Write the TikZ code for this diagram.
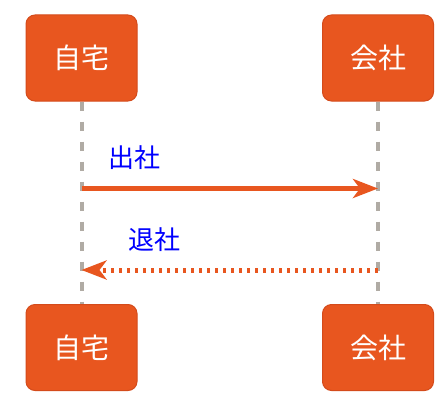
\documentclass[tikz,border=0pt]{standalone}
\usepackage{fontspec}
\newfontfamily\cjkfont{Noto Sans CJK JP}
\usetikzlibrary{arrows.meta}
\definecolor{boxorange}{HTML}{E8561F}
\definecolor{boxedge}{HTML}{D44B1B}
\definecolor{lifegray}{HTML}{B0ABA4}
\definecolor{lblue}{HTML}{0000FF}
\tikzset{
  actorbox/.style={rectangle, rounded corners=9pt, minimum width=111pt, minimum height=86pt,
    fill=boxorange, draw=boxedge, line width=1pt, text=white, inner sep=0pt,
    font=\cjkfont\fontsize{28}{32}\selectfont},
  lifeline/.style={draw=lifegray, line width=4pt, dash pattern=on 9pt off 11pt},
  msgsolid/.style={draw=boxorange, line width=5pt, -{Stealth[length=25pt,width=19pt,inset=7pt]}},
  msgdotted/.style={draw=boxorange, line width=5pt, dash pattern=on 3.5pt off 4.5pt,
    -{Stealth[length=25pt,width=19pt,inset=7pt]}},
  msglabel/.style={text=lblue, inner sep=0pt, font=\cjkfont\fontsize{26}{30}\selectfont}
}
\begin{document}
\begin{tikzpicture}[x=1pt,y=-1pt]
\useasboundingbox (0,0) rectangle (446,404);
\node[actorbox] (homeTop) at (81.5,58) {自宅};
\node[actorbox] (workTop) at (378,58) {会社};
\node[actorbox] (homeBot) at (81.5,347.5) {自宅};
\node[actorbox] (workBot) at (378,347.5) {会社};
\draw[lifeline] (homeTop.south) -- (homeBot.north);
\draw[lifeline] (workTop.south) -- (workBot.north);
\coordinate (h1) at (homeTop.south |- 0,188.5);
\coordinate (w1) at (workTop.south |- 0,188.5);
\coordinate (h2) at (homeTop.south |- 0,270);
\coordinate (w2) at (workTop.south |- 0,270);
\draw[msgsolid] (h1) -- (w1);
\draw[msgdotted] (w2) -- (h2);
\node[msglabel] (lab1) at (134,158) {出社};
\node[msglabel] (lab2) at (154,240) {退社};
\end{tikzpicture}
\end{document}
